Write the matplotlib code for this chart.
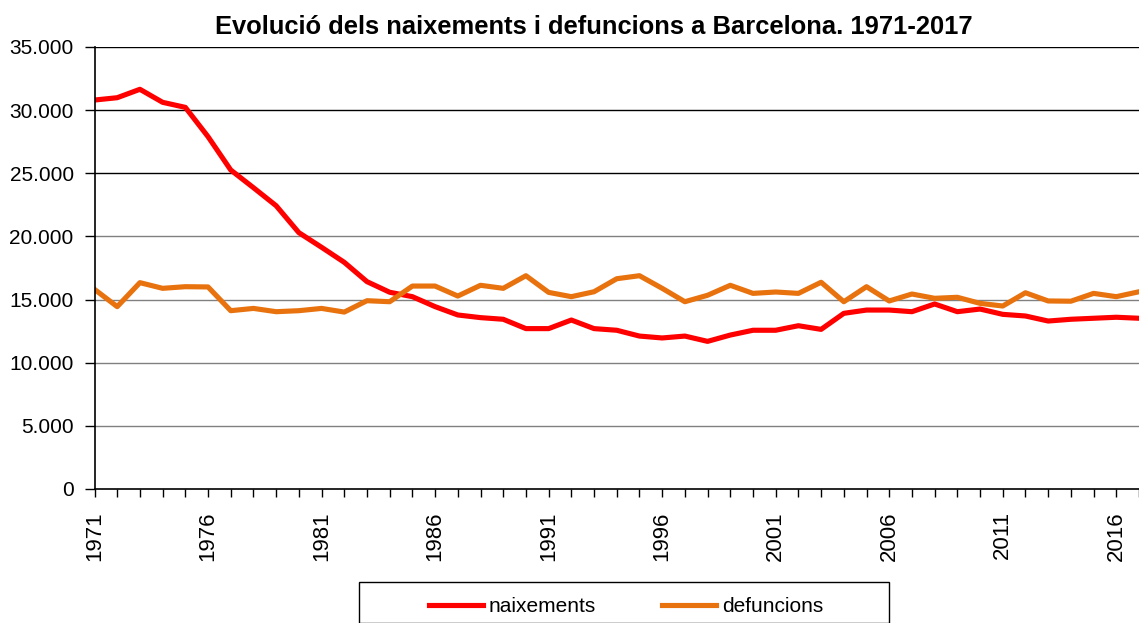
#!/usr/bin/env python3
"""Naixements i defuncions a Barcelona, 1971-2017 (line chart, Excel look)."""
import matplotlib
matplotlib.use("Agg")
import matplotlib.pyplot as plt
from matplotlib.patches import Rectangle
from matplotlib.ticker import FuncFormatter, MultipleLocator

plt.rcParams.update({
    "font.family": ["Liberation Sans", "DejaVu Sans"],
    "font.size": 15,
})

years = list(range(1971, 2018))
naixements = [30800, 30985, 31650, 30620, 30220, 27900, 25260, 23860, 22430, 20300,
              19140, 17950, 16420, 15580, 15230, 14440, 13780, 13570, 13440, 12700,
              12700, 13380, 12700, 12570, 12110, 11960, 12110, 11690, 12190, 12570,
              12570, 12930, 12640, 13910, 14170, 14170, 14040, 14650, 14040, 14250,
              13830, 13700, 13300, 13440, 13520, 13600, 13520]
defuncions = [15810, 14440, 16340, 15890, 16020, 16000, 14120, 14300, 14040, 14120,
              14300, 14010, 14910, 14830, 16070, 16070, 15280, 16130, 15890, 16890,
              15570, 15230, 15620, 16650, 16890, 15890, 14830, 15340, 16130, 15490,
              15600, 15490, 16370, 14830, 16020, 14890, 15440, 15100, 15180, 14700,
              14490, 15540, 14890, 14870, 15490, 15230, 15620]
series_names = ["naixements", "defuncions"]
title = "Evolució dels naixements i defuncions a Barcelona. 1971-2017"

W, H = 1139, 623
fig = plt.figure(figsize=(W / 100, H / 100), dpi=100)
x0, y0, ytop = 94.5, 489, 47
ax = fig.add_axes([x0 / W, (H - y0) / H, (W - x0) / W, (y0 - ytop) / H])

# gridlines: upper ones render black, lower ones grey in the original
for g in range(5000, 35001, 5000):
    ax.axhline(g, color="black" if g >= 25000 else "#808080", lw=1, zorder=1)

ax.plot(years, naixements, color="#ff0000", lw=3.7, label=series_names[0], zorder=3,
        solid_joinstyle="round")
ax.plot(years, defuncions, color="#e8720e", lw=3.7, label=series_names[1], zorder=3,
        solid_joinstyle="round")

ax.set_ylim(0, 35000)
ax.set_xlim(1971, 1971 + (W - x0) / 22.75)
ax.yaxis.set_major_locator(MultipleLocator(5000))
ax.yaxis.set_major_formatter(FuncFormatter(lambda v, p: f"{int(v):,}".replace(",", ".")))
ax.set_xticks(years[::5], [str(y) for y in years[::5]], rotation=90)
ax.set_xticks(years, minor=True)
ax.tick_params(axis="y", length=7, width=1, pad=8, labelsize=15)
ax.tick_params(axis="x", which="both", length=6, width=1, pad=10, labelsize=16)
for s in ("top", "right"):
    ax.spines[s].set_visible(False)
for s in ("left", "bottom"):
    ax.spines[s].set_linewidth(1.2)
    ax.spines[s].set_zorder(4)

fig.text(594 / W, 1 - 27 / H, title, ha="center", va="center",
         fontsize=18.4, fontweight="bold")

# legend box runs off the bottom of the image in the original
fig.patches.append(Rectangle((358.7 / W, 0), (889 - 358.7) / W, (H - 581.5) / H,
                             transform=fig.transFigure, fill=False, ec="black", lw=1))
fig.legend(loc="center", bbox_to_anchor=(626 / W, 1 - 607 / H), ncol=2, frameon=False,
           fontsize=15, handlelength=2.6, handletextpad=0.25, columnspacing=3.2)

fig.savefig("out.png", dpi=100)
